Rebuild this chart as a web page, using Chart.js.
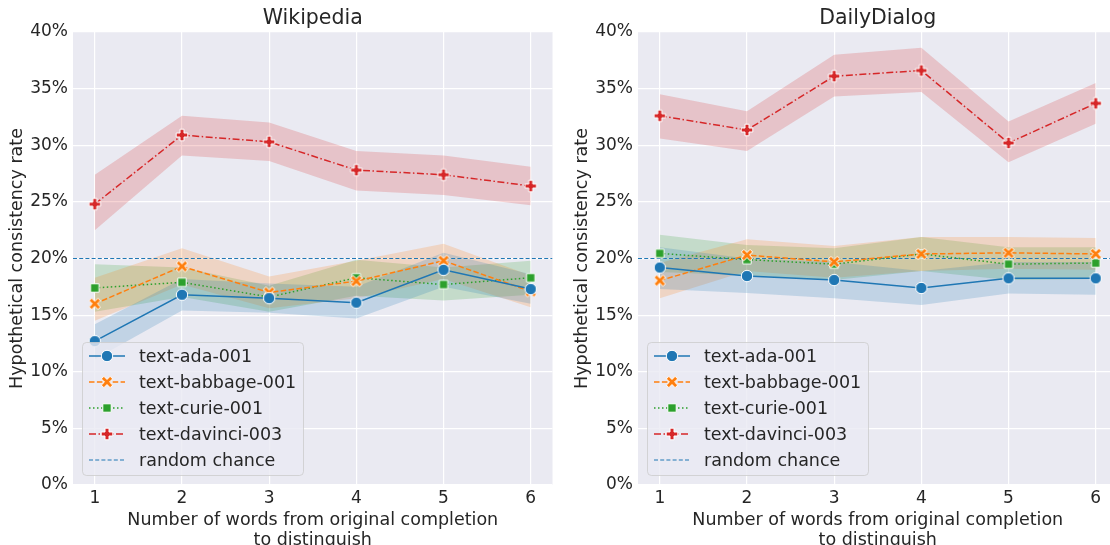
<!DOCTYPE html>
<html><head><meta charset="utf-8">
<script src="https://cdn.jsdelivr.net/npm/chart.js@4.4.0/dist/chart.umd.min.js"></script>
<style>
html,body{margin:0;padding:0;background:#fff;}
#wrap{position:relative;width:1110px;height:545px;overflow:hidden;}
.c{position:absolute;top:0;width:560px;height:552px;}
</style></head><body>
<div id="wrap">
<div class="c" style="left:0"><canvas id="c1" width="560" height="552"></canvas></div>
<div class="c" style="left:565px"><canvas id="c2" width="560" height="552"></canvas></div>
</div>
<script>
// ---- data ----
const xValues = [1, 2, 3, 4, 5, 6];
const yTickValues = [0, 5, 10, 15, 20, 25, 30, 35, 40];
const modelNames = ['text-ada-001', 'text-babbage-001', 'text-curie-001', 'text-davinci-003'];
const randomLabel = 'random chance';
const randomChance = 20;
const panelTitles = ['Wikipedia', 'DailyDialog'];
const xTitle = ['Number of words from original completion', 'to distinguish'];
const yTitle = 'Hypothetical consistency rate';

// Wikipedia
const wikiAda      = [12.7, 16.8, 16.5, 16.1, 19.0, 17.3];
const wikiAdaLow   = [11.1, 15.4, 15.2, 14.7, 17.5, 16.0];
const wikiAdaHigh  = [14.2, 18.2, 17.8, 17.5, 20.5, 18.6];
const wikiBab      = [16.0, 19.3, 17.0, 18.0, 19.8, 17.1];
const wikiBabLow   = [14.5, 17.7, 15.6, 16.5, 18.2, 15.7];
const wikiBabHigh  = [18.3, 20.9, 18.4, 19.8, 21.3, 18.5];
const wikiCur      = [17.4, 17.9, 16.6, 18.3, 17.7, 18.3];
const wikiCurLow   = [15.3, 16.6, 15.3, 16.7, 16.3, 16.8];
const wikiCurHigh  = [19.5, 19.2, 17.6, 19.9, 19.2, 19.8];
const wikiDav      = [24.8, 30.9, 30.3, 27.8, 27.4, 26.4];
const wikiDavLow   = [22.5, 29.1, 28.6, 26.0, 25.6, 24.7];
const wikiDavHigh  = [27.4, 32.6, 32.0, 29.5, 29.1, 28.1];

// DailyDialog
const ddAda      = [19.2, 18.45, 18.1, 17.4, 18.25, 18.25];
const ddAdaLow   = [17.3, 16.95, 16.5, 15.9, 16.9, 16.8];
const ddAdaHigh  = [21.0, 20.0, 19.7, 18.9, 19.7, 19.7];
const ddBab      = [18.05, 20.3, 19.7, 20.4, 20.5, 20.4];
const ddBabLow   = [16.5, 18.9, 18.3, 18.9, 19.1, 19.0];
const ddBabHigh  = [19.6, 21.7, 21.1, 21.9, 21.9, 21.8];
const ddCur      = [20.45, 19.9, 19.5, 20.4, 19.5, 19.6];
const ddCurLow   = [18.8, 18.5, 18.1, 18.9, 18.1, 18.2];
const ddCurHigh  = [22.1, 21.2, 20.9, 21.9, 21.0, 21.0];
const ddDav      = [32.6, 31.35, 36.1, 36.6, 30.2, 33.7];
const ddDavLow   = [30.6, 29.5, 34.3, 34.7, 28.5, 31.9];
const ddDavHigh  = [34.5, 33.0, 38.0, 38.6, 32.1, 35.5];

// ---- styles ----
const FONT = "'DejaVu Sans', sans-serif";
const TXT = '#262626';
const colors = ['#1f77b4', '#ff7f0e', '#2ca02c', '#d62728'];
const bandColors = ['rgba(31,119,180,0.2)', 'rgba(255,127,14,0.2)', 'rgba(44,160,44,0.2)', 'rgba(214,39,40,0.2)'];
const dashes = [[], [5.5, 2.4], [1.5, 2.5], [7, 2.5, 1.5, 2.5]];
const shapes = ['circle', 'x', 'square', 'plus'];

function crossPoly(L, a) {
  return [[-a,-L],[a,-L],[a,-a],[L,-a],[L,a],[a,a],[a,L],[-a,L],[-a,a],[-L,a],[-L,-a],[-a,-a]];
}
function makeMarker(shape, color) {
  const s = 18, c = document.createElement('canvas');
  c.width = s; c.height = s;
  const g = c.getContext('2d');
  g.translate(s / 2, s / 2);
  g.beginPath();
  if (shape === 'circle') {
    g.arc(0, 0, 5.7, 0, Math.PI * 2);
  } else if (shape === 'square') {
    g.rect(-4.2, -4.2, 8.4, 8.4);
  } else {
    let pts = crossPoly(shape === 'x' ? 6.2 : 5.8, shape === 'x' ? 1.8 : 2.0);
    if (shape === 'x') {
      const r = Math.SQRT1_2;
      pts = pts.map(([x, y]) => [(x - y) * r, (x + y) * r]);
    }
    pts.forEach(([x, y], i) => i ? g.lineTo(x, y) : g.moveTo(x, y));
    g.closePath();
  }
  g.fillStyle = color;
  g.fill();
  g.lineWidth = 1;
  g.strokeStyle = '#ffffff';
  g.stroke();
  return c;
}
const markers = shapes.map((s, i) => makeMarker(s, colors[i]));

const pts = arr => arr.map((v, i) => ({ x: xValues[i], y: v }));

function buildDatasets(series) {
  const ds = [];
  series.forEach((s, i) => {
    ds.push({
      label: modelNames[i], data: pts(s.mean), borderColor: colors[i], backgroundColor: colors[i],
      borderWidth: 1.5, borderDash: dashes[i], pointStyle: markers[i], pointRadius: 6,
      pointHoverRadius: 6, fill: false, tension: 0
    });
  });
  ds.push({
    label: randomLabel, data: [{ x: 0.75, y: randomChance }, { x: 6.25, y: randomChance }],
    borderColor: '#1f77b4', borderWidth: 1.1, borderDash: [4, 2.2], pointRadius: 0, fill: false
  });
  series.forEach((s, i) => {
    ds.push({ label: '_hi' + i, data: pts(s.high), borderWidth: 0, borderColor: 'transparent', pointRadius: 0, fill: false });
    ds.push({ label: '_lo' + i, data: pts(s.low), borderWidth: 0, borderColor: 'transparent', pointRadius: 0, fill: '-1', backgroundColor: bandColors[i] });
  });
  return ds;
}

const bgPlugin = {
  id: 'bg',
  beforeDraw(chart) {
    const { ctx, chartArea: a } = chart;
    ctx.save();
    ctx.fillStyle = '#eaeaf2';
    ctx.fillRect(a.left, a.top, a.right - a.left, a.bottom - a.top);
    ctx.restore();
  }
};
const titlePlugin = {
  id: 'ptitle',
  afterDraw(chart, args, opts) {
    const { ctx, chartArea: a } = chart;
    ctx.save();
    ctx.font = '20.5px ' + FONT;
    ctx.fillStyle = TXT;
    ctx.textAlign = 'center';
    ctx.textBaseline = 'middle';
    ctx.fillText(opts.text, (a.left + a.right) / 2, 19);
    ctx.restore();
  }
};
const legendPlugin = {
  id: 'mlegend',
  afterDraw(chart) {
    const { ctx, chartArea: a } = chart;
    const x0 = a.left + 9.5, y0 = 342.5, w = 221, h = 133;
    ctx.save();
    ctx.beginPath();
    ctx.roundRect(x0, y0, w, h, 4);
    ctx.fillStyle = 'rgba(234,234,242,0.8)';
    ctx.fill();
    ctx.lineWidth = 1;
    ctx.strokeStyle = 'rgba(204,204,204,0.8)';
    ctx.stroke();
    const labels = modelNames.concat([randomLabel]);
    labels.forEach((lab, i) => {
      const y = 356 + i * 26;
      const lx0 = a.left + 16, lx1 = a.left + 52, mx = a.left + 34;
      ctx.beginPath();
      ctx.setLineDash(i < 4 ? dashes[i] : [4, 2.2]);
      ctx.strokeStyle = i < 4 ? colors[i] : '#1f77b4';
      ctx.lineWidth = i < 4 ? 1.5 : 1.1;
      ctx.moveTo(lx0, y); ctx.lineTo(lx1, y);
      ctx.stroke();
      ctx.setLineDash([]);
      if (i < 4) ctx.drawImage(markers[i], mx - 9, y - 9);
      ctx.font = '17.5px ' + FONT;
      ctx.fillStyle = TXT;
      ctx.textBaseline = 'middle';
      ctx.textAlign = 'left';
      ctx.fillText(lab, a.left + 66, y + 1);
    });
    ctx.restore();
  }
};

function makeChart(id, title, series) {
  return new Chart(document.getElementById(id), {
    type: 'line',
    data: { datasets: buildDatasets(series) },
    plugins: [bgPlugin, titlePlugin, legendPlugin],
    options: {
      responsive: false, animation: false, devicePixelRatio: 1,
      layout: { padding: { top: 32, right: 4, left: 0, bottom: 0 } },
      plugins: {
        legend: { display: false }, tooltip: { enabled: false },
        ptitle: { text: title },
        filler: { propagate: false }
      },
      scales: {
        x: {
          type: 'linear', min: 0.75, max: 6.25,
          afterBuildTicks: s => { s.ticks = xValues.map(v => ({ value: v })); },
          afterFit: s => { s.height = 67; },
          grid: { color: '#ffffff', lineWidth: 1.2, drawTicks: false },
          border: { display: false },
          ticks: { color: TXT, font: { family: FONT, size: 17 }, padding: 3, maxRotation: 0 },
          title: { display: true, text: xTitle, color: TXT, font: { family: FONT, size: 17.5, lineHeight: 1.12 }, padding: { top: 0, bottom: 2 } }
        },
        y: {
          type: 'linear', min: 0, max: 40,
          afterBuildTicks: s => { s.ticks = yTickValues.map(v => ({ value: v })); },
          afterFit: s => { s.width = 73; },
          grid: { color: '#ffffff', lineWidth: 1.2, drawTicks: false },
          border: { display: false },
          ticks: { color: TXT, font: { family: FONT, size: 17 }, padding: 5, callback: v => v + '%' },
          title: { display: true, text: yTitle, color: TXT, font: { family: FONT, size: 17.5, lineHeight: 1.12 }, padding: { top: 8, bottom: 0 } }
        }
      }
    }
  });
}

makeChart('c1', panelTitles[0], [
  { mean: wikiAda, low: wikiAdaLow, high: wikiAdaHigh },
  { mean: wikiBab, low: wikiBabLow, high: wikiBabHigh },
  { mean: wikiCur, low: wikiCurLow, high: wikiCurHigh },
  { mean: wikiDav, low: wikiDavLow, high: wikiDavHigh }
]);
makeChart('c2', panelTitles[1], [
  { mean: ddAda, low: ddAdaLow, high: ddAdaHigh },
  { mean: ddBab, low: ddBabLow, high: ddBabHigh },
  { mean: ddCur, low: ddCurLow, high: ddCurHigh },
  { mean: ddDav, low: ddDavLow, high: ddDavHigh }
]);
</script>
</body></html>
